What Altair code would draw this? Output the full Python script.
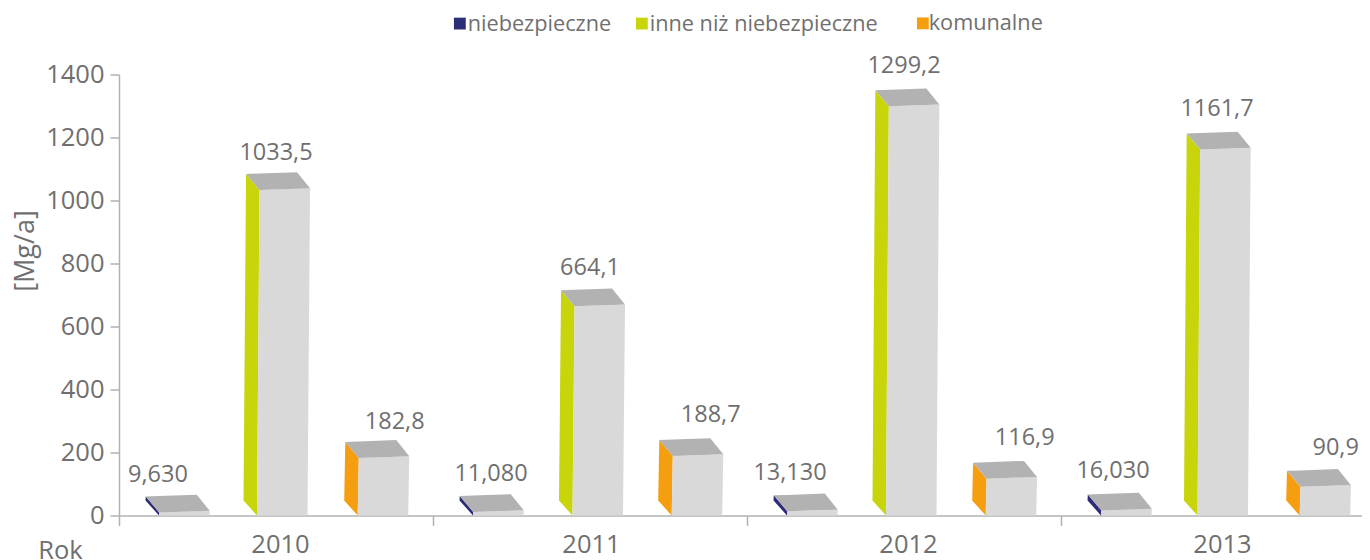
import math
import altair as alt
import pandas as pd

years = ["2010", "2011", "2012", "2013"]
series = ["niebezpieczne", "inne niż niebezpieczne", "komunalne"]
colors = ["#2b2d77", "#c8d50a", "#f59e0f"]
niebezpieczne = [9.63, 11.08, 13.13, 16.03]
inne = [1033.5, 664.1, 1299.2, 1161.7]
komunalne = [182.8, 188.7, 116.9, 90.9]
niebezpieczne_txt = ["9,630", "11,080", "13,130", "16,030"]
inne_txt = ["1033,5", "664,1", "1299,2", "1161,7"]
komunalne_txt = ["182,8", "188,7", "116,9", "90,9"]

# layout of the pseudo-3D drawing, in pixels
W, H, SLOT = 1243, 441, 314
PX_Y = 1400 / H
FRONT = [40, 138, 238.7]
GREEN_SHIFT = [0, 1.5, 1, -1.5]
BAR_W, DEPTH_X, DEPTH_Y = 50.5, 13.5, 15
NUDGE = {  # label centre offset from bar's front left, and above bar top
    (0, 0): (-1, 37), (1, 0): (18, 38), (2, 0): (3, 38), (3, 0): (12, 39),
    (0, 1): (19, 37), (1, 1): (17.5, 38), (2, 1): (18, 40), (3, 1): (19.5, 41),
    (0, 2): (37, 36), (1, 2): (39, 41), (2, 2): (39, 41), (3, 2): (36, 39),
}


def lerp(x, x0, y0, x1, y1):
    return y0 + (y1 - y0) * (x - x0) / (x1 - x0)


faces, labels = [], []
for s, (name, vals, txts) in enumerate(
    zip(series, [niebezpieczne, inne, komunalne], [niebezpieczne_txt, inne_txt, komunalne_txt])
):
    for g, (v, t) in enumerate(zip(vals, txts)):
        h = v / PX_Y
        lean = 0.14 * math.sqrt(h)
        base = g * SLOT + FRONT[s] + (GREEN_SHIFT[g] if s == 1 else 0)
        tilt = 1.7
        front = [
            (0, 0, 0),
            (lean, h, 0),
            (BAR_W, lerp(BAR_W, lean, h, lean + BAR_W, h + tilt), 0),
            (lean + BAR_W, h + tilt, h + tilt),
        ]
        bx, tx = -DEPTH_X, -DEPTH_X + lean
        side = [
            (bx, DEPTH_Y, DEPTH_Y),
            (tx, h + DEPTH_Y + 1, lerp(tx, bx, DEPTH_Y, 0, 0)),
            (0, lerp(0, tx, h + DEPTH_Y + 1, lean, h), 0),
            (lean, h, h),
        ]
        brx = lean + BAR_W - 13
        top = [
            (tx, h + DEPTH_Y + 1, h + DEPTH_Y + 1),
            (lean, lerp(lean, tx, h + DEPTH_Y + 1, brx, h + DEPTH_Y + 2.8), h),
            (brx, h + DEPTH_Y + 2.8, lerp(brx, lean, h, lean + BAR_W, h + tilt)),
            (lean + BAR_W, h + tilt, h + tilt),
        ]
        for face, pts in (("front", front), ("side", side), ("top", top)):
            for i, (px, up, lo) in enumerate(pts):
                faces.append(
                    dict(
                        bar=f"{g}-{s}", face=face, series=name, i=i,
                        x=(base + px) / SLOT, y=up * PX_Y, y2=lo * PX_Y,
                    )
                )
        dx, dy = NUDGE[(g, s)]
        labels.append(dict(x=(base + dx) / SLOT, y=v + dy * PX_Y, text=t))

df = pd.DataFrame(faces)
x_scale = alt.Scale(domain=[0, W / SLOT], nice=False, zero=False)
y_scale = alt.Scale(domain=[0, 1400], nice=False)
TXT = "#706f6f"
AX = "#b2b2b2"
FONT = "Open Sans"

x_enc = alt.X(
    "x:Q",
    scale=x_scale,
    axis=alt.Axis(
        values=[0, 1, 2, 3],
        labelExpr="toString(2010 + datum.value)",
        labelOffset={"condition": {"test": "datum.value == 1", "value": 158}, "value": 161},
        labelBound=False,
        labelOverlap=False,
        labelFlush=False,
        labelAlign="center",
        labelFont=FONT,
        labelFontSize=25.5,
        labelColor=TXT,
        labelPadding=7,
        tickSize=10,
        tickWidth=1.5,
        tickColor=AX,
        domainColor=AX,
        domainWidth=1.5,
        grid=False,
        title="Rok",
        titleFont=FONT,
        titleFontSize=25.5,
        titleFontWeight="normal",
        titleColor=TXT,
        titleX=-59,
        titleY=34.5,
        titleAlign="center",
        titleBaseline="middle",
    ),
)
y_enc = alt.Y(
    "y:Q",
    stack=None,
    scale=y_scale,
    axis=alt.Axis(
        values=list(range(0, 1401, 200)),
        format="d",
        labelFont=FONT,
        labelFontSize=25.5,
        labelColor=TXT,
        labelPadding=6,
        tickSize=9,
        tickWidth=1.5,
        tickColor=AX,
        domainColor=AX,
        domainWidth=1.5,
        grid=False,
        title="[Mg/a]",
        titleFont=FONT,
        titleFontSize=27,
        titleFontWeight="normal",
        titleColor=TXT,
        titleX=-94,
        titleY=176,
        titleAngle=-90,
        titleAlign="center",
        titleBaseline="middle",
    ),
)


def side_layer(names, cols, legend_x, offset):
    part = df[(df.face == "side") & (df.series.isin(names))]
    return alt.Chart(part).mark_area(orient="vertical").encode(
        x=x_enc,
        y=y_enc,
        y2=alt.Y2("y2:Q"),
        detail="bar:N",
        color=alt.Color(
            "series:N",
            scale=alt.Scale(domain=names, range=cols),
            sort=names,
            legend=alt.Legend(
                orient="none",
                legendX=legend_x,
                legendY=-62,
                direction="horizontal",
                title=None,
                symbolType="square",
                symbolSize=140,
                symbolStrokeWidth=0,
                symbolOpacity=1,
                labelFont=FONT,
                labelFontSize=21.7,
                labelColor=TXT,
                labelOffset={"expr": str(offset)},
                columnPadding=19,
                labelLimit=400,
            ),
        ),
    )


def face_layer(name, **mark):
    return alt.Chart(df[df.face == name]).mark_area(orient="vertical", **mark).encode(
        x=x_enc, y=y_enc, y2=alt.Y2("y2:Q"), detail="bar:N"
    )


side_a = side_layer(series[:2], colors[:2], 330, -3)
side_b = side_layer(series[2:], colors[2:], 793, -5)
top = face_layer("top", color="#b2b2b2")
front = face_layer("front", color="#d9d9d9")
text = (
    alt.Chart(pd.DataFrame(labels))
    .mark_text(font=FONT, fontSize=23.5, color=TXT, align="center", baseline="middle", clip=False)
    .encode(x=alt.X("x:Q", scale=x_scale), y=alt.Y("y:Q", scale=y_scale, stack=None), text="text:N")
)

chart = (
    alt.layer(side_a, side_b, front, top, text)
    .resolve_scale(color="independent")
    .properties(
        width=W,
        height=H,
        autosize=alt.AutoSizeParams(type="none"),
        padding={"left": 111, "top": 66.5, "right": 0, "bottom": 45},
    )
    .configure_view(stroke=None)
)
chart.save("out.html", embed_options={"renderer": "svg", "actions": False})
